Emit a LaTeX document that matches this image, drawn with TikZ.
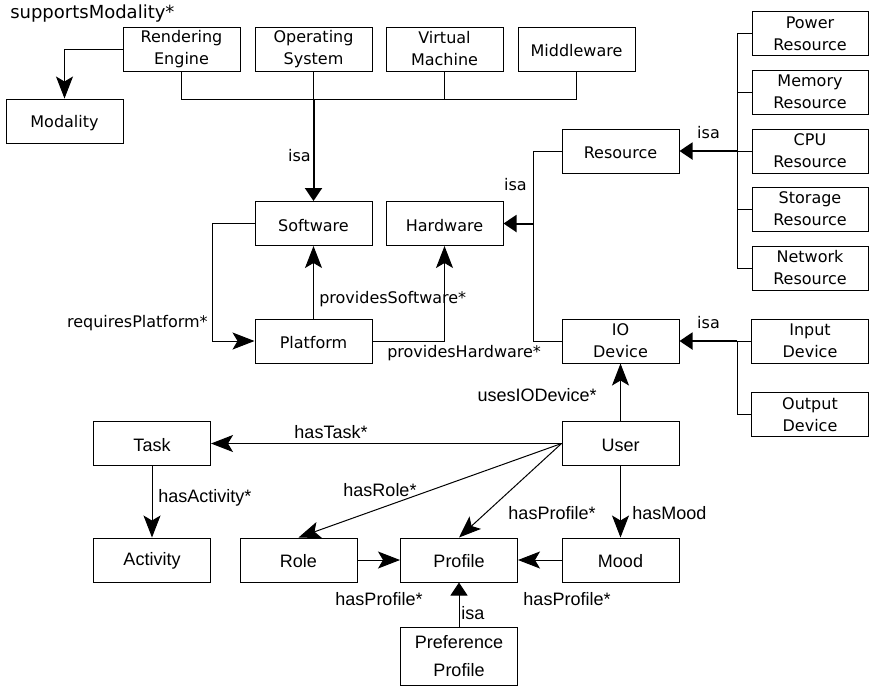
\documentclass[tikz,border=0pt]{standalone}
\usepackage{fontspec}
\setmainfont{DejaVu Sans}
\newfontfamily\helvfont{Liberation Sans}
\usetikzlibrary{arrows.meta}

\tikzset{
  cls/.style={draw, line width=0.75pt, minimum width=87.75pt, minimum height=33pt,
    inner sep=0pt, align=center, font=\fontsize{12}{16.5}\selectfont,
    execute at begin node={\rule{0pt}{11.5pt}}},
  ucls/.style={cls, font=\helvfont\fontsize{13.5}{21}\selectfont},
  lbl/.style={inner sep=0pt, font=\fontsize{12}{14}\selectfont},
  ulbl/.style={inner sep=0pt, font=\helvfont\fontsize{13.5}{16}\selectfont},
  link/.style={line width=0.75pt},
  rel/.style={link, -{Stealth[length=16.5pt,width=12.75pt,inset=3.75pt]}},
  isa/.style={line width=1.5pt, -{Triangle[length=9.75pt,width=12.75pt]}},
}

\begin{document}
\begin{tikzpicture}[x=0.75pt, y=-0.75pt]
    \useasboundingbox (0,0) rectangle (870,687);

    % software side
    \node[cls] (modality) at (64.5,121) {Modality};
    \node[cls] (render) at (181.5,49) {Rendering\\Engine};
    \node[cls] (opsys) at (313.5,49) {Operating\\System};
    \node[cls] (vm) at (444.5,49) {Virtual\\Machine};
    \node[cls] (middleware) at (576.5,49) {Middleware};
    \node[cls] (software) at (313.5,223.5) {Software};
    \node[cls] (hardware) at (444.5,223.5) {Hardware};
    \node[cls] (platform) at (313.5,341) {Platform};

    % hardware side
    \node[cls] (resource) at (620.5,151) {Resource};
    \node[cls] (io) at (620.5,341) {IO\\Device};
    \node[cls] (input) at (810,341) {Input\\Device};
    \node[cls] (output) at (810,414.5) {Output\\Device};

    % user side
    \node[ucls] (user) at (620.5,443.5) {User};
    \node[ucls] (task) at (152,443.5) {Task};
    \node[ucls] (activity) at (152,560) {Activity};
    \node[ucls] (role) at (298.5,560) {Role};
    \node[ucls] (profile) at (459,560) {Profile};
    \node[ucls] (mood) at (620.5,560) {Mood};
    \node[ucls, minimum height=43.5pt] (pref) at (459,656) {Preference\\Profile};

    \coordinate (bus) at (0,99);
    \coordinate (spine) at (737,0);
    \coordinate (hwbus) at (533,0);

    % subclasses of Software
    \draw[link] (render.south) -- (render.south |- bus) -- (middleware.south |- bus)
        -- (middleware.south);
    \draw[link] (vm.south) -- (vm.south |- bus);
    \draw[link] (opsys.south) -- (opsys.south |- bus);
    \draw[isa] (opsys.south |- bus) -- (software.north);
    \node[lbl, anchor=east] (isasw) at (311,156) {isa};

    \draw[rel] (render.west) -| (modality.north);
    \node[lbl, anchor=west, font=\fontsize{13.5}{16}\selectfont] (supmod) at (10,14)
        {supportsModality*};

    % resources
    \foreach \name/\txt/\y in {power/Power/33.5, memory/Memory/92, cpu/CPU/151,
                               storage/Storage/209, network/Network/268}
    {
        \node[cls, minimum width=87pt] (\name) at (810,\y) {\txt\\Resource};
        \draw[link] (\name.west) -- (\name.west -| spine);
    }
    \draw[link] (power.west -| spine) -- (network.west -| spine);
    \draw[isa] (cpu.west -| spine) -- (resource.east);
    \node[lbl] (isares) at (708.5,133) {isa};

    % subclasses of Hardware
    \draw[link] (resource.west) -- (resource.west -| hwbus) -- (io.west -| hwbus) -- (io.west);
    \draw[isa] (hardware.east -| hwbus) -- (hardware.east);
    \node[lbl, anchor=east] (isahw) at (527,185) {isa};

    \draw[link] (input.west) -- (input.west -| spine) -- (output.west -| spine) -- (output.west);
    \draw[isa] (input.west -| spine) -- (io.east);
    \node[lbl] (isaio) at (708.5,323) {isa};

    % platform relations
    \draw[rel] (software.west) -- ++(-42,0) |- (platform.west);
    \node[lbl, anchor=east] (reqplat) at (208,323) {requiresPlatform*};
    \draw[rel] (platform.north) -- (software.south);
    \node[lbl, anchor=west] (provsw) at (319,299) {providesSoftware*};
    \draw[rel] (platform.east) -| (hardware.south);
    \node[lbl, anchor=west] (provhw) at (387,353) {providesHardware*};

    % user relations
    \draw[rel] (user.north) -- (io.south);
    \node[ulbl, anchor=east] (usesio) at (597,395) {usesIODevice*};
    \draw[rel] (user.west) -- (task.east);
    \node[ulbl] (hastask) at (331,432) {hasTask*};
    \draw[rel] (task.south) -- (activity.north);
    \node[ulbl, anchor=west] (hasact) at (158,498) {hasActivity*};
    \draw[rel] (user.west) -- (role.north);
    \node[ulbl] (hasrole) at (380,490) {hasRole*};
    \draw[rel] (user.west) -- (profile.north);
    \node[ulbl] (userprof) at (552,513) {hasProfile*};
    \draw[rel] (user.south) -- (mood.north);
    \node[ulbl, anchor=west] (hasmood) at (632,513) {hasMood};

    \draw[rel] (role.east) -- (profile.west);
    \node[ulbl] (roleprof) at (379,599) {hasProfile*};
    \draw[rel] (mood.west) -- (profile.east);
    \node[ulbl] (moodprof) at (567,599) {hasProfile*};
    \draw[isa, line width=0.75pt] (pref.north) -- (profile.south);
    \node[ulbl, anchor=west] (isapref) at (461,613) {isa};
\end{tikzpicture}
\end{document}
